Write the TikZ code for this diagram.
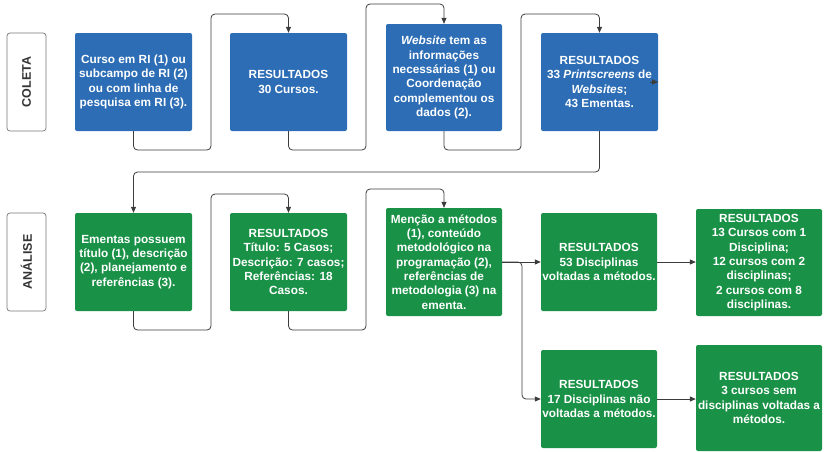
\documentclass[tikz,border=0pt]{standalone}
\usepackage{fontspec}
\setmainfont{Liberation Sans}
\usetikzlibrary{arrows.meta}
\definecolor{boxblue}{RGB}{44,109,181}
\definecolor{boxgreen}{RGB}{25,145,70}
\definecolor{linegray}{RGB}{60,60,60}
\definecolor{labgray}{RGB}{120,120,120}
\tikzset{
  bx/.style={rectangle, rounded corners=2pt, inner sep=1pt, align=center,
    text=white, font=\bfseries\fontsize{11.8}{14.3}\selectfont},
  bluebox/.style={bx, fill=boxblue, minimum width=117pt, minimum height=98pt},
  greenbox/.style={bx, fill=boxgreen, minimum width=117pt, minimum height=98pt},
  labbox/.style={rectangle, rounded corners=3pt, draw=labgray, line width=0.7pt, fill=white,
    minimum width=98pt, minimum height=39pt, rotate=90, text=black!80,
    font=\bfseries\fontsize{12.5}{15}\selectfont},
  conn/.style={draw=linegray, line width=0.8pt, rounded corners=4pt,
    -{Triangle[length=6pt,width=5pt]}},
}
\begin{document}
\begin{tikzpicture}[x=1pt,y=-1pt]
\useasboundingbox (0,0) rectangle (825,451);
% labels
\node[labbox] (lab1) at (26.5,82) {COLETA};
\node[labbox] (lab2) at (26.5,262) {ANÁLISE};
% top row
\node[bluebox] (b1) at (133.5,82) {Curso em RI (1) ou\\subcampo de RI (2)\\ou com linha de\\pesquisa em RI (3).};
\node[bluebox] (b2) at (288.5,82) {RESULTADOS\\30 Cursos.};
\node[bluebox, minimum width=116pt, minimum height=107pt] (b3) at (444,77.5) {\textit{Website} tem as\\informações\\necessárias (1) ou\\Coordenação\\complementou os\\dados (2).};
\node[bluebox] (b4) at (599.5,82) {RESULTADOS\\33 \textit{Printscreens} de\\\textit{Websites};\\43 Ementas.};
% bottom row
\node[greenbox] (b5) at (133.5,262) {Ementas possuem\\título (1), descrição\\(2), planejamento e\\referências (3).};
\node[greenbox] (b6) at (288.5,262) {RESULTADOS\\Título: 5 Casos;\\Descrição: 7 casos;\\Referências: 18\\Casos.};
\node[greenbox, minimum width=116pt, minimum height=108pt] (b7) at (444,262) {Menção a métodos\\(1), conteúdo\\metodológico na\\programação (2),\\referências de\\metodologia (3) na\\ementa.};
\node[greenbox, minimum width=116pt] (b8) at (599,262) {RESULTADOS\\53 Disciplinas\\voltadas a métodos.};
\node[greenbox, minimum width=126pt, minimum height=107pt] (b9) at (759,262.5) {RESULTADOS\\13 Cursos com 1\\Disciplina;\\12 cursos com 2\\disciplinas;\\2 cursos com 8\\disciplinas.};
\node[greenbox, minimum width=116pt] (b10) at (599,399) {RESULTADOS\\17 Disciplinas não\\voltadas a métodos.};
\node[greenbox, minimum width=126pt, minimum height=106pt] (b11) at (759,398) {RESULTADOS\\3 cursos sem\\disciplinas voltadas a\\métodos.};
% helper coordinates
\coordinate (p1) at (211,150); \coordinate (q1) at (211,14);
\coordinate (p2) at (366,150); \coordinate (q2) at (366,4);
\coordinate (p3) at (521,150); \coordinate (q3) at (521,14);
\coordinate (k4) at (366,172);
\coordinate (p5) at (211,330); \coordinate (q5) at (211,194);
\coordinate (p6) at (366,330); \coordinate (q6) at (366,189);
\coordinate (br) at (522,262);
\coordinate (s1) at (650,82);
% connectors
\draw[conn] (b1.south) |- (p1) -- (q1) -| (b2.north);
\draw[conn] (b2.south) |- (p2) -- (q2) -| (b3.north);
\draw[conn] (b3.south) |- (p3) -- (q3) -| (b4.north);
\draw[conn] (b4.south) |- (k4) -| (b5.north);
\draw[conn] (b5.south) |- (p5) -- (q5) -| (b6.north);
\draw[conn] (b6.south) |- (p6) -- (q6) -| (b7.north);
\draw[conn] (b7.east) -- (b8.west);
\draw[conn] (b7.east) -- (br) |- (b10.west);
\draw[conn] (b8.east) -- (b9.west |- b8.east);
\draw[conn] (b10.east) -- (b11.west |- b10.east);
\draw[conn] (s1) -- (b4.east);
\end{tikzpicture}
\end{document}
